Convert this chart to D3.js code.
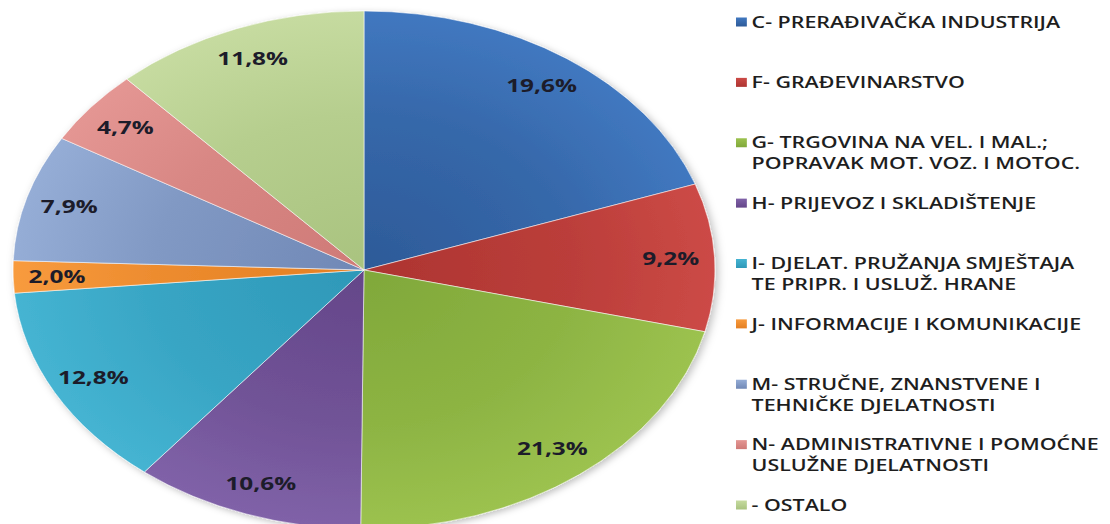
<!DOCTYPE html>
<html>
<head>
<meta charset="utf-8">
<script src="https://cdn.jsdelivr.net/npm/d3@7"></script>
<style>
  body { margin: 0; background: #fff; }
  svg { display: block; }
</style>
</head>
<body>
<svg id="chart" width="1110" height="524"></svg>
<script>
// sectors, clockwise from 12 o'clock
const categories = [
  ["C- PRERAĐIVAČKA INDUSTRIJA"],
  ["F- GRAĐEVINARSTVO"],
  ["G- TRGOVINA NA VEL. I MAL.;", "POPRAVAK MOT. VOZ. I MOTOC."],
  ["H- PRIJEVOZ I SKLADIŠTENJE"],
  ["I- DJELAT. PRUŽANJA SMJEŠTAJA", "TE PRIPR. I USLUŽ. HRANE"],
  ["J- INFORMACIJE I KOMUNIKACIJE"],
  ["M- STRUČNE, ZNANSTVENE I", "TEHNIČKE DJELATNOSTI"],
  ["N- ADMINISTRATIVNE I POMOĆNE", "USLUŽNE DJELATNOSTI"],
  ["- OSTALO"]
];
const shares = [19.6, 9.2, 21.3, 10.6, 12.8, 2.0, 7.9, 4.7, 11.8];
const shareLabels = ["19,6%", "9,2%", "21,3%", "10,6%", "12,8%", "2,0%", "7,9%", "4,7%", "11,8%"];
const lightColors = ["#4178c0", "#cc4a46", "#9cc24f", "#8062a8", "#45b4d2", "#f89b3e", "#95add6", "#e49693", "#c6dba0"];
const darkColors  = ["#2d5a98", "#ad3431", "#80a83a", "#644689", "#2e98b8", "#e47f22", "#7088b6", "#cf7a77", "#a9c37f"];

const svg = d3.select("#chart");
const width = 1110, height = 524;

// the original picture is stretched sideways; everything is drawn round/upright then widened
const cx = 364, cy = 270, rx = 351, ry = 259;
const R = ry;
const sx = rx / ry;

const defs = svg.append("defs");

shares.forEach((v, i) => {
  const grad = defs.append("radialGradient")
    .attr("id", "slice-" + i)
    .attr("gradientUnits", "userSpaceOnUse")
    .attr("cx", 0).attr("cy", 0).attr("r", R);
  grad.append("stop").attr("offset", "0%").attr("stop-color", darkColors[i]);
  grad.append("stop").attr("offset", "60%").attr("stop-color", d3.interpolateRgb(darkColors[i], lightColors[i])(0.45));
  grad.append("stop").attr("offset", "100%").attr("stop-color", lightColors[i]);

  const sw = defs.append("linearGradient")
    .attr("id", "swatch-" + i)
    .attr("x1", 0).attr("y1", 0).attr("x2", 0).attr("y2", 1);
  sw.append("stop").attr("offset", "0%").attr("stop-color", lightColors[i]);
  sw.append("stop").attr("offset", "100%").attr("stop-color", darkColors[i]);
});

const shadow = defs.append("filter").attr("id", "pie-shadow")
  .attr("x", "-5%").attr("y", "-5%").attr("width", "110%").attr("height", "110%");
shadow.append("feDropShadow")
  .attr("dx", 2).attr("dy", 2).attr("stdDeviation", 3)
  .attr("flood-color", "#000").attr("flood-opacity", 0.25);

const pie = d3.pie().sort(null).value(d => d);
const arcs = pie(shares);

const arc = d3.arc().innerRadius(0).outerRadius(R);

const pieG = svg.append("g")
  .attr("transform", `translate(${cx},${cy}) scale(${sx},1)`)
  .attr("filter", "url(#pie-shadow)");

pieG.selectAll("path.slice")
  .data(arcs)
  .enter()
  .append("path")
  .attr("class", "slice")
  .attr("d", arc)
  .attr("fill", (d, i) => `url(#slice-${i})`)
  .attr("stroke", "rgba(255,255,255,0.55)")
  .attr("stroke-width", 1)
  .attr("vector-effect", "non-scaling-stroke");

// percentage labels, inside end of each slice
const k = 0.875;
svg.append("g")
  .selectAll("text")
  .data(arcs)
  .enter()
  .append("text")
  .attr("transform", d => {
    const a = (d.startAngle + d.endAngle) / 2;
    const x = cx + rx * k * Math.sin(a);
    const y = cy - ry * k * Math.cos(a);
    return `translate(${x},${y}) scale(${sx},1)`;
  })
  .attr("text-anchor", "middle")
  .attr("dy", "0.36em")
  .attr("font-family", "'Open Sans', sans-serif")
  .attr("font-weight", "bold")
  .attr("font-size", "18px")
  .attr("fill", "#1c1c2a")
  .text((d, i) => shareLabels[i]);

// legend
const legendY = d3.scaleLinear().domain([0, categories.length - 1]).range([22, 505]);
const legend = svg.append("g");

categories.forEach((lines, i) => {
  const item = legend.append("g")
    .attr("transform", `translate(736,${legendY(i)}) scale(${sx},1)`);

  item.append("rect")
    .attr("x", 0)
    .attr("y", -4.5)
    .attr("width", 8)
    .attr("height", 9)
    .attr("fill", `url(#swatch-${i})`);

  const text = item.append("text")
    .attr("x", 11.5)
    .attr("y", 0)
    .attr("font-family", "'Open Sans', sans-serif")
    .attr("font-weight", 600)
    .attr("font-size", "15.8px")
    .attr("fill", "#1e1e1e");

  lines.forEach((line, j) => {
    text.append("tspan")
      .attr("x", 11.5)
      .attr("dy", j === 0 ? "0.36em" : "21px")
      .text(line);
  });
});
</script>
</body>
</html>
